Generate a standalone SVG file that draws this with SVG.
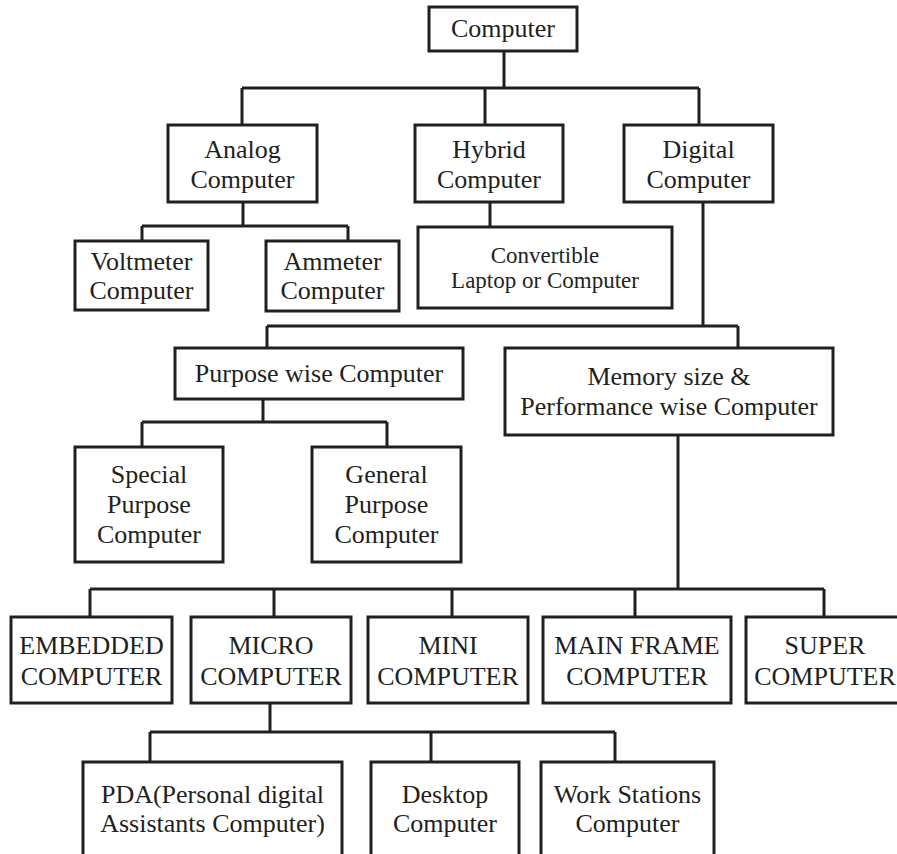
<svg xmlns="http://www.w3.org/2000/svg" width="897" height="854" viewBox="0 0 897 854">
<style>
rect{fill:#fff;stroke:#231f20;stroke-width:3}
.c path{fill:none;stroke:#231f20;stroke-width:3}
text{font-family:"Liberation Serif","Times New Roman",serif;font-size:26px;fill:#231f20;text-anchor:middle}
.s{font-size:23px}
</style>
<rect x="0" y="0" width="897" height="854" style="stroke:none"/>
<g class="c" id="connectors">
<path d="M504 51V88M242 88H699M242 88V125M485 88V125M699 88V125"/>
<path d="M243 202V226M142 226H348M142 226V241M348 226V241"/>
<path d="M490 202V227"/>
<path d="M703 202V326M267 326H738M267 326V348M738 326V348"/>
<path d="M263 399V422M142 422H387M142 422V447M387 422V447"/>
<path d="M678 435V589M90 589H824M90 589V617M274 589V617M452 589V617M635 589V617M824 589V617"/>
<path d="M270 703V732M150 732H615M150 732V762M431 732V762M615 732V762"/>
</g>
<g id="computer"><rect x="429" y="7" width="148" height="44"/><text x="503" y="37">Computer</text></g>
<g id="analog"><rect x="168" y="125" width="149" height="77"/><text x="242.5" y="158">Analog</text><text x="242.5" y="188">Computer</text></g>
<g id="hybrid"><rect x="415" y="125" width="148" height="77"/><text x="489" y="158">Hybrid</text><text x="489" y="188">Computer</text></g>
<g id="digital"><rect x="624" y="125" width="149" height="77"/><text x="698.5" y="158">Digital</text><text x="698.5" y="188">Computer</text></g>
<g id="voltmeter"><rect x="75" y="241" width="133" height="69"/><text x="141.5" y="270">Voltmeter</text><text x="141.5" y="299">Computer</text></g>
<g id="ammeter"><rect x="266" y="241" width="133" height="70"/><text x="332.5" y="270">Ammeter</text><text x="332.5" y="299">Computer</text></g>
<g id="convertible"><rect x="418" y="227" width="254" height="81"/><text class="s" x="545" y="263">Convertible</text><text class="s" x="545" y="288">Laptop or Computer</text></g>
<g id="purpose"><rect x="175" y="348" width="288" height="51"/><text x="319" y="382">Purpose wise Computer</text></g>
<g id="memory"><rect x="505" y="348" width="328" height="87"/><text x="669" y="385">Memory size &amp;</text><text x="669" y="415">Performance wise Computer</text></g>
<g id="special"><rect x="75" y="447" width="148" height="115"/><text x="149" y="483">Special</text><text x="149" y="513">Purpose</text><text x="149" y="543">Computer</text></g>
<g id="general"><rect x="312" y="447" width="149" height="115"/><text x="386.5" y="483">General</text><text x="386.5" y="513">Purpose</text><text x="386.5" y="543">Computer</text></g>
<g id="embedded"><rect x="11" y="617" width="161" height="86"/><text x="91.5" y="654">EMBEDDED</text><text x="91.5" y="685">COMPUTER</text></g>
<g id="micro"><rect x="191" y="617" width="160" height="86"/><text x="271" y="654">MICRO</text><text x="271" y="685">COMPUTER</text></g>
<g id="mini"><rect x="368" y="617" width="160" height="86"/><text x="448" y="654">MINI</text><text x="448" y="685">COMPUTER</text></g>
<g id="mainframe"><rect x="543" y="617" width="188" height="86"/><text x="637" y="654">MAIN FRAME</text><text x="637" y="685">COMPUTER</text></g>
<g id="super"><rect x="746" y="617" width="158" height="86"/><text x="825" y="654">SUPER</text><text x="825" y="685">COMPUTER</text></g>
<g id="pda"><rect x="83" y="762" width="259" height="110"/><text x="212.5" y="803">PDA(Personal digital</text><text x="212.5" y="832">Assistants Computer)</text></g>
<g id="desktop"><rect x="371" y="762" width="148" height="110"/><text x="445" y="803">Desktop</text><text x="445" y="832">Computer</text></g>
<g id="workstations"><rect x="541" y="762" width="173" height="110"/><text x="627.5" y="803">Work Stations</text><text x="627.5" y="832">Computer</text></g>
</svg>
